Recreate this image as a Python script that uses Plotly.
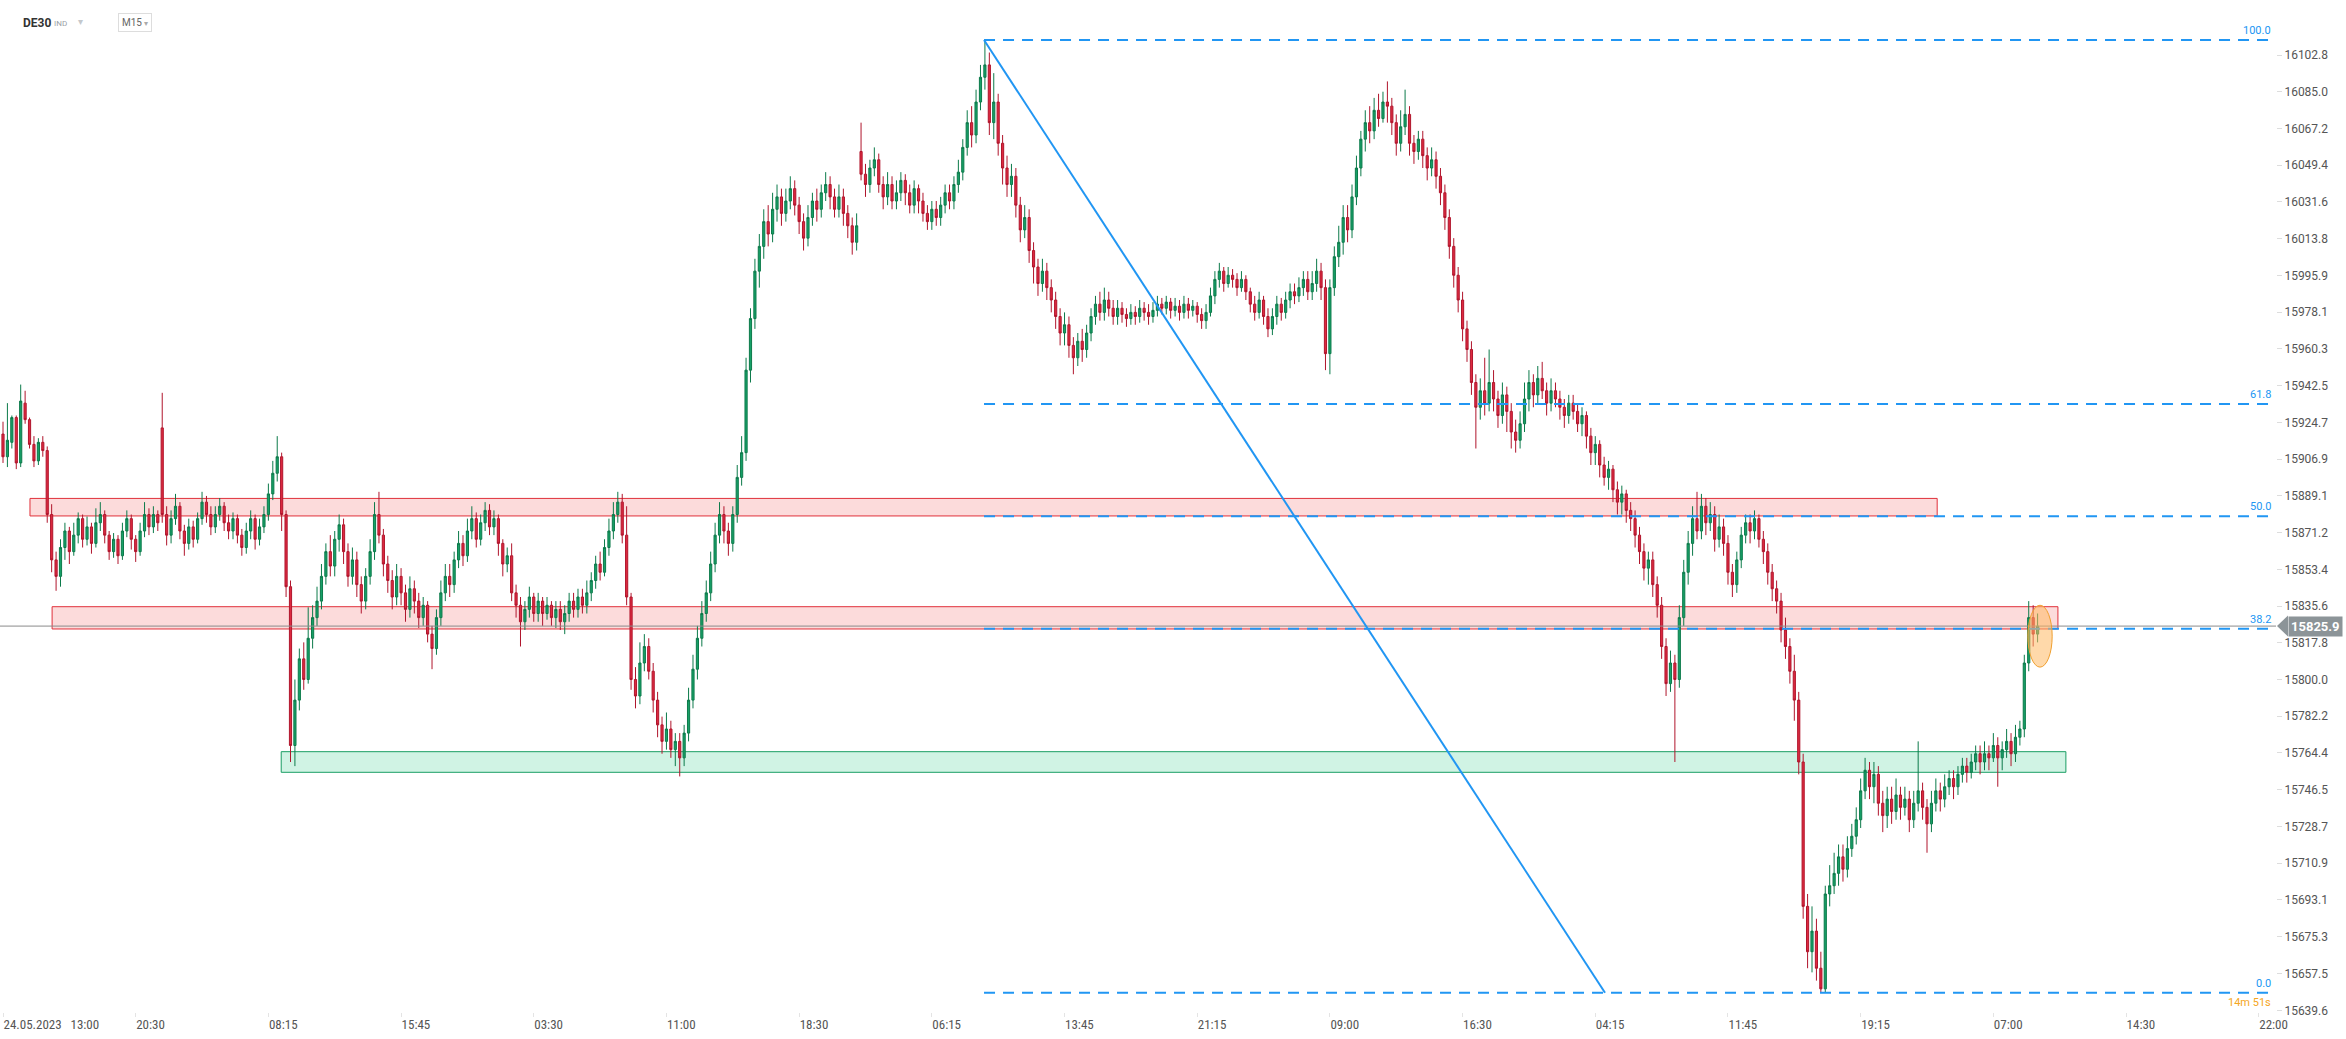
import plotly.graph_objects as go

# ---------------- DATA ----------------
# 15-minute DE30 candles, bar index 0 = 24.05.2023 13:00
opens = [
    15919, 15908, 15915, 15927, 15905, 15934, 15926, 15914, 15906, 15915,
    15911, 15880, 15858, 15850, 15864, 15872, 15862, 15870, 15878, 15868,
    15874, 15866, 15876, 15880, 15870, 15862, 15868, 15860, 15872, 15878,
    15868, 15862, 15872, 15880, 15874, 15880,
    15922, 15880, 15870, 15878,
    15884, 15872, 15866, 15874, 15868, 15878, 15886, 15880, 15874, 15880,
    15884, 15876, 15872, 15878, 15870, 15864, 15872, 15878, 15868, 15874,
    15880, 15890, 15900, 15908, 15880, 15845, 15768, 15790, 15810, 15800,
    15820, 15830, 15838, 15850, 15862, 15855, 15868, 15875, 15862, 15850,
    15858, 15846, 15838, 15850, 15862, 15880, 15870, 15856, 15848, 15840,
    15850, 15842, 15834, 15844, 15838, 15830, 15836, 15822, 15815, 15830,
    15842, 15850, 15846, 15858, 15866, 15860, 15872, 15878, 15868, 15876,
    15882, 15874, 15878, 15866, 15856,
    15860, 15842, 15836, 15828, 15834,
    15840, 15832, 15838, 15832, 15836, 15830, 15834, 15828, 15832, 15838,
    15834, 15840, 15836, 15842, 15848, 15856, 15852, 15864, 15872, 15880,
    15886, 15870, 15840, 15800, 15792, 15808, 15816, 15804, 15790, 15778,
    15770, 15776, 15766, 15770, 15762, 15774, 15790, 15805, 15820, 15832,
    15842, 15856, 15870, 15880, 15872, 15866, 15880, 15898, 15910, 15950,
    15975, 15998, 16010, 16022, 16016, 16028, 16034, 16026, 16032, 16038,
    16030, 16022, 16014, 16024, 16032, 16028, 16036, 16040, 16034, 16028,
    16034, 16026, 16020, 16012,
    16056, 16045, 16040, 16048, 16052, 16040,
    16034, 16040, 16032, 16036, 16042, 16036, 16030, 16038, 16032, 16026,
    16022, 16028, 16024, 16030, 16036, 16032, 16040, 16046, 16058, 16070,
    16064, 16080, 16092, 16098, 16070, 16080, 16060, 16048, 16040, 16044,
    16030, 16018, 16024, 16008, 16000, 15992, 15998, 15990, 15984, 15976,
    15968, 15972, 15962, 15956, 15964, 15960, 15968, 15976, 15982, 15978,
    15984, 15980, 15976, 15980, 15977, 15975, 15978, 15976, 15980, 15978,
    15976, 15979, 15982, 15980, 15983, 15979, 15981, 15978, 15982, 15979,
    15981, 15977, 15974,
    15978, 15986, 15994, 15998, 15992, 15996, 15994,
    15990, 15994, 15988, 15982, 15978, 15984, 15976, 15970, 15976, 15982,
    15978, 15984, 15988, 15986, 15990, 15994, 15988, 15992, 15998, 15990,
    15958, 15990, 16005, 16012, 16024, 16018, 16034, 16048, 16062, 16070,
    16066, 16076, 16072, 16080, 16078, 16070, 16060, 16068, 16074, 16060,
    16056, 16062, 16054, 16048, 16052, 16044, 16036, 16024, 16010, 15996,
    15984, 15970, 15960, 15944, 15932, 15940, 15934, 15944, 15936, 15928,
    15938, 15930, 15920, 15916, 15924, 15936, 15944, 15938, 15946, 15940,
    15934, 15940,
    15936, 15932, 15928, 15934, 15930, 15924, 15928, 15918,
    15910, 15914, 15904, 15898, 15902, 15892, 15886, 15890, 15882, 15878,
    15870, 15862, 15854, 15858, 15846, 15836, 15816, 15798, 15808, 15800,
    15830, 15852, 15866, 15878, 15872, 15884, 15876, 15880, 15868, 15874,
    15866, 15852, 15846, 15858, 15870, 15876, 15872, 15878, 15868, 15862,
    15852, 15844, 15838, 15824, 15816, 15804, 15790, 15760, 15690, 15668,
    15678, 15660, 15650, 15696, 15700, 15706, 15714, 15708, 15718, 15724,
    15732, 15746, 15756, 15748, 15754, 15740, 15734, 15742, 15736, 15744,
    15738,
    15742, 15732, 15740, 15746, 15738, 15730, 15740, 15746, 15742,
    15748, 15752, 15748, 15754, 15758, 15755, 15760, 15764, 15760, 15764,
    15762, 15768, 15762, 15766, 15770, 15764, 15772, 15776, 15808, 15830,
    15822,
]

highs = [
    15925, 15934, 15928, 15928, 15943, 15940, 15927, 15918, 15917, 15918,
    15913, 15885, 15862, 15868, 15876, 15874, 15876, 15881, 15880, 15879,
    15876, 15883, 15886, 15882, 15872, 15871, 15870, 15876, 15882, 15880,
    15870, 15876, 15886, 15883, 15884, 15882,
    15939, 15884, 15882, 15890,
    15886, 15875, 15878, 15877, 15881, 15891, 15889, 15884, 15884, 15888,
    15886, 15880, 15881, 15880, 15873, 15876, 15882, 15880, 15878, 15884,
    15895, 15906, 15918, 15910, 15882, 15848, 15800, 15815, 15818, 15835,
    15836, 15845, 15856, 15866, 15870, 15872, 15880, 15878, 15866, 15864,
    15862, 15850, 15854, 15868, 15886, 15891, 15873, 15860, 15853, 15856,
    15854, 15846, 15850, 15848, 15842, 15840, 15838, 15826, 15834, 15848,
    15856, 15856, 15862, 15872, 15870, 15878, 15884, 15881, 15880, 15886,
    15885, 15882, 15880, 15868, 15864,
    15866, 15846, 15840, 15838, 15845,
    15842, 15842, 15840, 15840, 15838, 15838, 15838, 15836, 15842, 15842,
    15844, 15844, 15848, 15852, 15860, 15862, 15868, 15878, 15886, 15891,
    15890, 15884, 15842, 15806, 15818, 15822, 15820, 15808, 15794, 15782,
    15784, 15780, 15774, 15774, 15778, 15796, 15812, 15826, 15838, 15848,
    15862, 15876, 15886, 15884, 15876, 15884, 15904, 15918, 15956, 15980,
    16004, 16016, 16028, 16030, 16036, 16040, 16038, 16038, 16044, 16042,
    16034, 16026, 16030, 16036, 16038, 16040, 16046, 16044, 16038, 16040,
    16038, 16030, 16024, 16026,
    16070, 16050, 16052, 16058, 16055, 16044,
    16046, 16044, 16042, 16046, 16045, 16040, 16042, 16040, 16036, 16030,
    16032, 16032, 16034, 16040, 16040, 16044, 16052, 16062, 16076, 16078,
    16086, 16098, 16110, 16104, 16094, 16084, 16064, 16054, 16050, 16048,
    16034, 16030, 16028, 16012, 16004, 16004, 16002, 15994, 15988, 15980,
    15978, 15976, 15966, 15968, 15970, 15972, 15980, 15986, 15988, 15990,
    15988, 15984, 15984, 15983, 15980, 15982, 15981, 15984, 15983, 15982,
    15983, 15986, 15985, 15986, 15985, 15985, 15984, 15986, 15985, 15984,
    15983, 15980, 15982,
    15990, 15998, 16002, 16000, 16000, 15999, 15997,
    15998, 15996, 15990, 15986, 15988, 15986, 15980, 15980, 15986, 15985,
    15988, 15992, 15992, 15995, 15998, 15998, 15998, 16004, 16002, 15994,
    15994, 16010, 16020, 16030, 16030, 16040, 16054, 16066, 16076, 16078,
    16082, 16084, 16085, 16090, 16082, 16074, 16076, 16086, 16078, 16064,
    16066, 16066, 16058, 16058, 16056, 16048, 16040, 16028, 16014, 16000,
    15988, 15974, 15964, 15948, 15946, 15956, 15960, 15950, 15940, 15944,
    15942, 15934, 15926, 15930, 15944, 15950, 15948, 15952, 15954, 15944,
    15946, 15944,
    15940, 15936, 15938, 15938, 15934, 15932, 15930, 15922,
    15918, 15916, 15908, 15906, 15904, 15896, 15894, 15892, 15886, 15882,
    15874, 15866, 15862, 15862, 15850, 15840, 15820, 15814, 15812, 15836,
    15858, 15872, 15884, 15891, 15890, 15888, 15886, 15884, 15880, 15878,
    15870, 15856, 15862, 15874, 15880, 15880, 15882, 15880, 15872, 15866,
    15856, 15848, 15842, 15830, 15820, 15812, 15794, 15764, 15696, 15690,
    15684, 15668, 15700, 15710, 15716, 15720, 15720, 15724, 15730, 15738,
    15752, 15762, 15760, 15760, 15758, 15746, 15748, 15748, 15752, 15748,
    15748,
    15746, 15746, 15770, 15750, 15742, 15746, 15752, 15750, 15754,
    15756, 15756, 15758, 15762, 15762, 15764, 15768, 15768, 15770, 15768,
    15774, 15772, 15770, 15776, 15774, 15778, 15780, 15812, 15838, 15836,
    15832,
]

lows = [
    15905, 15903, 15912, 15902, 15903, 15924, 15912, 15903, 15904, 15908,
    15876, 15852, 15843, 15845, 15858, 15856, 15860, 15866, 15864, 15865,
    15861, 15864, 15872, 15866, 15858, 15859, 15856, 15858, 15869, 15863,
    15857, 15860, 15869, 15870, 15871, 15872,
    15876, 15865, 15866, 15875,
    15868, 15860, 15863, 15864, 15866, 15875, 15876, 15870, 15871, 15877,
    15872, 15868, 15868, 15866, 15860, 15861, 15868, 15863, 15865, 15871,
    15877, 15887, 15896, 15872, 15840, 15760, 15758, 15785, 15795, 15798,
    15815, 15826, 15834, 15846, 15850, 15850, 15862, 15856, 15845, 15846,
    15840, 15832, 15834, 15846, 15858, 15866, 15850, 15842, 15834, 15836,
    15836, 15828, 15830, 15832, 15825, 15826, 15818, 15805, 15812, 15826,
    15838, 15840, 15842, 15854, 15855, 15857, 15868, 15864, 15865, 15872,
    15870, 15870, 15860, 15850, 15852,
    15838, 15830, 15816, 15824, 15830,
    15828, 15828, 15826, 15829, 15826, 15825, 15824, 15822, 15828, 15830,
    15830, 15832, 15832, 15838, 15844, 15848, 15850, 15860, 15868, 15876,
    15866, 15836, 15795, 15786, 15788, 15804, 15800, 15784, 15772, 15764,
    15766, 15762, 15758, 15753, 15758, 15770, 15786, 15800, 15816, 15828,
    15838, 15852, 15866, 15866, 15860, 15862, 15876, 15894, 15906, 15944,
    15970, 15990, 16004, 16010, 16012, 16022, 16020, 16022, 16028, 16025,
    16016, 16008, 16010, 16020, 16022, 16024, 16032, 16028, 16024, 16024,
    16020, 16014, 16006, 16008,
    16042, 16034, 16036, 16044, 16036, 16028,
    16030, 16028, 16028, 16032, 16030, 16026, 16026, 16026, 16022, 16018,
    16018, 16020, 16020, 16026, 16028, 16028, 16036, 16042, 16054, 16058,
    16060, 16076, 16086, 16064, 16062, 16054, 16040, 16034, 16034, 16024,
    16012, 16014, 16002, 15992, 15986, 15988, 15984, 15978, 15970, 15962,
    15962, 15956, 15948, 15952, 15954, 15956, 15964, 15972, 15974, 15974,
    15976, 15972, 15972, 15973, 15971, 15972, 15972, 15973, 15974, 15972,
    15973, 15976, 15977, 15977, 15975, 15976, 15974, 15975, 15975, 15976,
    15973, 15970, 15970,
    15976, 15982, 15990, 15988, 15990, 15990, 15986,
    15988, 15984, 15978, 15974, 15975, 15972, 15966, 15967, 15972, 15974,
    15975, 15980, 15982, 15983, 15986, 15984, 15984, 15988, 15984, 15950,
    15948, 15986, 16000, 16006, 16012, 16014, 16030, 16044, 16056, 16060,
    16062, 16068, 16070, 16070, 16064, 16054, 16056, 16064, 16054, 16050,
    16052, 16048, 16042, 16044, 16038, 16030, 16018, 16004, 15990, 15978,
    15964, 15954, 15938, 15912, 15926, 15928, 15930, 15930, 15922, 15924,
    15920, 15912, 15910, 15912, 15920, 15930, 15932, 15934, 15936, 15928,
    15930, 15932,
    15926, 15922, 15924, 15926, 15920, 15918, 15912, 15904,
    15904, 15898, 15894, 15892, 15886, 15880, 15880, 15876, 15872, 15864,
    15856, 15848, 15846, 15840, 15830, 15810, 15792, 15794, 15760, 15796,
    15826, 15846, 15860, 15868, 15868, 15870, 15872, 15862, 15864, 15860,
    15846, 15840, 15842, 15854, 15866, 15866, 15868, 15864, 15856, 15846,
    15838, 15832, 15818, 15810, 15798, 15780, 15754, 15684, 15660, 15658,
    15654, 15648, 15648, 15690, 15696, 15700, 15702, 15704, 15714, 15720,
    15728, 15742, 15742, 15740, 15734, 15726, 15728, 15730, 15732, 15732,
    15734,
    15726, 15728, 15736, 15732, 15716, 15726, 15736, 15736, 15738,
    15744, 15742, 15744, 15750, 15750, 15752, 15756, 15754, 15756, 15756,
    15760, 15748, 15756, 15762, 15758, 15760, 15768, 15772, 15804, 15816,
    15818,
]

closes = [
    15908, 15916, 15927, 15905, 15935, 15926, 15914, 15906, 15915, 15911,
    15880, 15858, 15850, 15864, 15872, 15862, 15870, 15878, 15868, 15874,
    15866, 15876, 15880, 15870, 15862, 15868, 15860, 15872, 15878, 15868,
    15862, 15872, 15880, 15874, 15880, 15876,
    15880, 15870, 15878, 15884,
    15872, 15866, 15874, 15868, 15878, 15886, 15880, 15874, 15880, 15884,
    15876, 15872, 15878, 15870, 15864, 15872, 15878, 15868, 15874, 15880,
    15890, 15900, 15908, 15880, 15845, 15768, 15790, 15810, 15800, 15820,
    15830, 15838, 15850, 15862, 15855, 15868, 15875, 15862, 15850, 15858,
    15846, 15838, 15850, 15862, 15880, 15870, 15856, 15848, 15840, 15850,
    15842, 15834, 15844, 15838, 15830, 15836, 15822, 15815, 15830, 15842,
    15850, 15846, 15858, 15866, 15860, 15872, 15878, 15868, 15876, 15882,
    15874, 15878, 15866, 15856, 15860,
    15842, 15836, 15828, 15834, 15840,
    15832, 15838, 15832, 15836, 15830, 15834, 15828, 15832, 15838, 15834,
    15840, 15836, 15842, 15848, 15856, 15852, 15864, 15872, 15880, 15886,
    15870, 15840, 15800, 15792, 15808, 15816, 15804, 15790, 15778, 15770,
    15776, 15766, 15770, 15762, 15774, 15790, 15805, 15820, 15832, 15842,
    15856, 15870, 15880, 15872, 15866, 15880, 15898, 15910, 15950, 15975,
    15998, 16010, 16022, 16016, 16028, 16034, 16026, 16032, 16038, 16030,
    16022, 16014, 16024, 16032, 16028, 16036, 16040, 16034, 16028, 16034,
    16026, 16020, 16012, 16020,
    16045, 16040, 16048, 16052, 16040, 16034,
    16040, 16032, 16036, 16042, 16036, 16030, 16038, 16032, 16026, 16022,
    16028, 16024, 16030, 16036, 16032, 16040, 16046, 16058, 16070, 16064,
    16080, 16092, 16098, 16070, 16080, 16060, 16048, 16040, 16044, 16030,
    16018, 16024, 16008, 16000, 15992, 15998, 15990, 15984, 15976, 15968,
    15972, 15962, 15956, 15964, 15960, 15968, 15976, 15982, 15978, 15984,
    15980, 15976, 15980, 15977, 15975, 15978, 15976, 15980, 15978, 15976,
    15979, 15982, 15980, 15983, 15979, 15981, 15978, 15982, 15979, 15981,
    15977, 15974, 15978,
    15986, 15994, 15998, 15992, 15996, 15994, 15990,
    15994, 15988, 15982, 15978, 15984, 15976, 15970, 15976, 15982, 15978,
    15984, 15988, 15986, 15990, 15994, 15988, 15992, 15998, 15990, 15958,
    15990, 16005, 16012, 16024, 16018, 16034, 16048, 16062, 16070, 16066,
    16076, 16072, 16080, 16078, 16070, 16060, 16068, 16074, 16060, 16056,
    16062, 16054, 16048, 16052, 16044, 16036, 16024, 16010, 15996, 15984,
    15970, 15960, 15944, 15932, 15940, 15934, 15944, 15936, 15928, 15938,
    15930, 15920, 15916, 15924, 15936, 15944, 15938, 15946, 15940, 15934,
    15940, 15936,
    15932, 15928, 15934, 15930, 15924, 15928, 15918, 15910,
    15914, 15904, 15898, 15902, 15892, 15886, 15890, 15882, 15878, 15870,
    15862, 15854, 15858, 15846, 15836, 15816, 15798, 15808, 15800, 15830,
    15852, 15866, 15878, 15872, 15884, 15876, 15880, 15868, 15874, 15866,
    15852, 15846, 15858, 15870, 15876, 15872, 15878, 15868, 15862, 15852,
    15844, 15838, 15824, 15816, 15804, 15790, 15760, 15690, 15668, 15678,
    15660, 15650, 15696, 15700, 15706, 15714, 15708, 15718, 15724, 15732,
    15746, 15756, 15748, 15754, 15740, 15734, 15742, 15736, 15744, 15738,
    15742,
    15732, 15740, 15746, 15738, 15730, 15740, 15746, 15742, 15748,
    15752, 15748, 15754, 15758, 15755, 15760, 15764, 15760, 15764, 15762,
    15768, 15762, 15766, 15770, 15764, 15772, 15776, 15808, 15830, 15822,
    15825.9,
]

# time-axis labels (every 30 bars)
x_tick_pos = [0, 30, 60, 90, 120, 150, 180, 210, 240, 270, 300, 330, 360, 390, 420, 450, 480, 510]
x_tick_text = ["24.05.2023\u2002 13:00", "20:30", "08:15", "15:45", "03:30", "11:00", "18:30",
               "06:15", "13:45", "21:15", "09:00", "16:30", "04:15", "11:45", "19:15",
               "07:00", "14:30", "22:00"]

# price-axis labels
y_ticks = [15639.6, 15657.5, 15675.3, 15693.1, 15710.9, 15728.7, 15746.5, 15764.4, 15782.2,
           15800.0, 15817.8, 15835.6, 15853.4, 15871.2, 15889.1, 15906.9, 15924.7, 15942.5,
           15960.3, 15978.1, 15995.9, 16013.8, 16031.6, 16049.4, 16067.2, 16085.0, 16102.8]

# drawn zones (bar index from/to, price low/high)
zone_x0 = [6.1, 11.1, 62.9]
zone_x1 = [437.3, 464.6, 466.4]
zone_lo = [15879.3, 15824.5, 15755.0]
zone_hi = [15887.8, 15835.3, 15765.0]
zone_kind = ["resistance", "resistance", "support"]

# Fibonacci retracement drawing
fib_levels = [0.0, 38.2, 50.0, 61.8, 100.0]
fib_low = 15648.1
fib_high = 16110.1
fib_x_start = 221.8
fib_x_end = 513.2
trend_x = [221.8, 362.2]
trend_y = [16110.1, 15648.1]

last_price = 15825.9
marker_x = [457.8, 463.3]
marker_y = [15806.0, 15836.0]
countdown = "14m 51s"

# ---------------- FIGURE ----------------
n = min(len(opens), len(highs), len(lows), len(closes))
idx = list(range(n))

W, H = 2346, 1039
ML, MR, MT, MB = 0, 70, 0, 27
PW, PH = W - ML - MR, H - MT - MB
PX_PER_PT = 2.0624
y_top = 16102.8 + 55 / PX_PER_PT
y_bot = y_top - PH / PX_PER_PT
PX_PER_BAR = 4.423
x_left = -3 / PX_PER_BAR
x_right = x_left + PW / PX_PER_BAR

fig = go.Figure()
fig.add_trace(go.Candlestick(
    x=idx, open=opens[:n], high=highs[:n], low=lows[:n], close=closes[:n],
    increasing=dict(line=dict(color="#0c7a4a", width=1), fillcolor="#17a068"),
    decreasing=dict(line=dict(color="#b0152c", width=1), fillcolor="#dd2a40"),
    whiskerwidth=0, hoverinfo="skip", showlegend=False,
))

shapes = []
for x0, x1, lo, hi, kind in zip(zone_x0, zone_x1, zone_lo, zone_hi, zone_kind):
    if kind == "support":
        fill, edge = "rgba(40,200,130,0.22)", "#1a9e64"
    else:
        fill, edge = "rgba(240,90,90,0.22)", "#e0303a"
    shapes.append(dict(type="rect", xref="x", yref="y", x0=x0, x1=x1, y0=lo, y1=hi,
                       fillcolor=fill, line=dict(color=edge, width=1), layer="below"))

# current price line
shapes.append(dict(type="line", xref="paper", yref="y", x0=0, x1=1, y0=last_price, y1=last_price,
                   line=dict(color="#8a8a8a", width=1)))

fib_blue = "#2196f3"
for lv in fib_levels:
    p = fib_low + (fib_high - fib_low) * lv / 100.0
    shapes.append(dict(type="line", xref="x", yref="y", x0=fib_x_start, x1=fib_x_end, y0=p, y1=p,
                       line=dict(color=fib_blue, width=2, dash="11px,8px")))

shapes.append(dict(type="line", xref="x", yref="y", x0=trend_x[0], x1=trend_x[1],
                   y0=trend_y[0], y1=trend_y[1], line=dict(color=fib_blue, width=2)))

shapes.append(dict(type="circle", xref="x", yref="y", x0=marker_x[0], x1=marker_x[1],
                   y0=marker_y[0], y1=marker_y[1], fillcolor="rgba(255,185,100,0.55)",
                   line=dict(color="#f0a030", width=1)))

# price tag arrow
dy = 10.5 / PX_PER_PT
tip = 1.0 + 1 / PW
base = 1.0 + 12 / PW
shapes.append(dict(type="path", xref="paper", yref="y",
                   path=f"M {tip},{last_price} L {base},{last_price + dy} L {base},{last_price - dy} Z",
                   fillcolor="#8c9498", line=dict(width=0)))

annotations = []
for lv in fib_levels:
    p = fib_low + (fib_high - fib_low) * lv / 100.0
    annotations.append(dict(x=fib_x_end, y=p, xref="x", yref="y", text=f"{lv:.1f}",
                            showarrow=False, xanchor="right", yanchor="bottom", yshift=1,
                            font=dict(family="Roboto, sans-serif", size=11, color=fib_blue)))

annotations.append(dict(x=fib_x_end, y=fib_low, xref="x", yref="y", text=countdown,
                        showarrow=False, xanchor="right", yanchor="top", yshift=-1,
                        font=dict(family="Roboto, sans-serif", size=11, color="#f5a623")))

annotations.append(dict(x=base, y=last_price, xref="paper", yref="y", text=f"<b>{last_price:.1f}</b>",
                        showarrow=False, xanchor="left", yanchor="middle", bgcolor="#8c9498",
                        borderpad=2, font=dict(family="Roboto, sans-serif", size=13, color="white")))

# header
def px_x(px):
    return (px - ML) / PW

def px_y(py):
    return 1 - (py - MT) / PH

annotations += [
    dict(x=px_x(21), y=px_y(23), xref="paper", yref="paper", text="<b>DE30</b>", showarrow=False,
         xanchor="left", yanchor="middle", font=dict(family="Roboto, sans-serif", size=12, color="#333")),
    dict(x=px_x(52), y=px_y(24), xref="paper", yref="paper", text="IND", showarrow=False,
         xanchor="left", yanchor="middle", font=dict(family="Roboto, sans-serif", size=8, color="#9aa0a6")),
    dict(x=px_x(76), y=px_y(22), xref="paper", yref="paper", text="▾", showarrow=False,
         xanchor="left", yanchor="middle", font=dict(family="DejaVu Sans, sans-serif", size=10, color="#c4c8cc")),
    dict(x=px_x(118), y=px_y(23), xref="paper", yref="paper", text="M15<span style='font-size:8px;color:#aaa'> ▾</span>",
         showarrow=False, xanchor="left", yanchor="middle", bordercolor="#dddddd", borderwidth=1,
         borderpad=3, bgcolor="white", font=dict(family="Roboto, sans-serif", size=10, color="#666")),
]

fig.update_layout(
    width=W, height=H,
    margin=dict(l=ML, r=MR, t=MT, b=MB, pad=0),
    paper_bgcolor="white", plot_bgcolor="white",
    showlegend=False,
    shapes=shapes, annotations=annotations,
    xaxis=dict(range=[x_left, x_right], tickmode="array", tickvals=x_tick_pos, ticktext=x_tick_text,
               ticklabelposition="outside right", ticks="outside", ticklen=4, tickcolor="#e4e4e4",
               showgrid=False, zeroline=False, showline=False, rangeslider=dict(visible=False),
               tickfont=dict(family="Liberation Sans Narrow, Roboto Condensed, Roboto, sans-serif", size=13, color="#555")),
    yaxis=dict(range=[y_bot, y_top], side="right", tickmode="array", tickvals=y_ticks,
               ticktext=[f"{v:.1f}" for v in y_ticks], ticks="outside", ticklen=5, tickcolor="#dddddd",
               showgrid=False, zeroline=False, showline=False,
               tickfont=dict(family="Roboto, sans-serif", size=12, color="#555")),
)

fig.write_html("out.html", config={"displayModeBar": False},
               post_script="document.body.style.margin='0';document.body.style.overflow='hidden';")
